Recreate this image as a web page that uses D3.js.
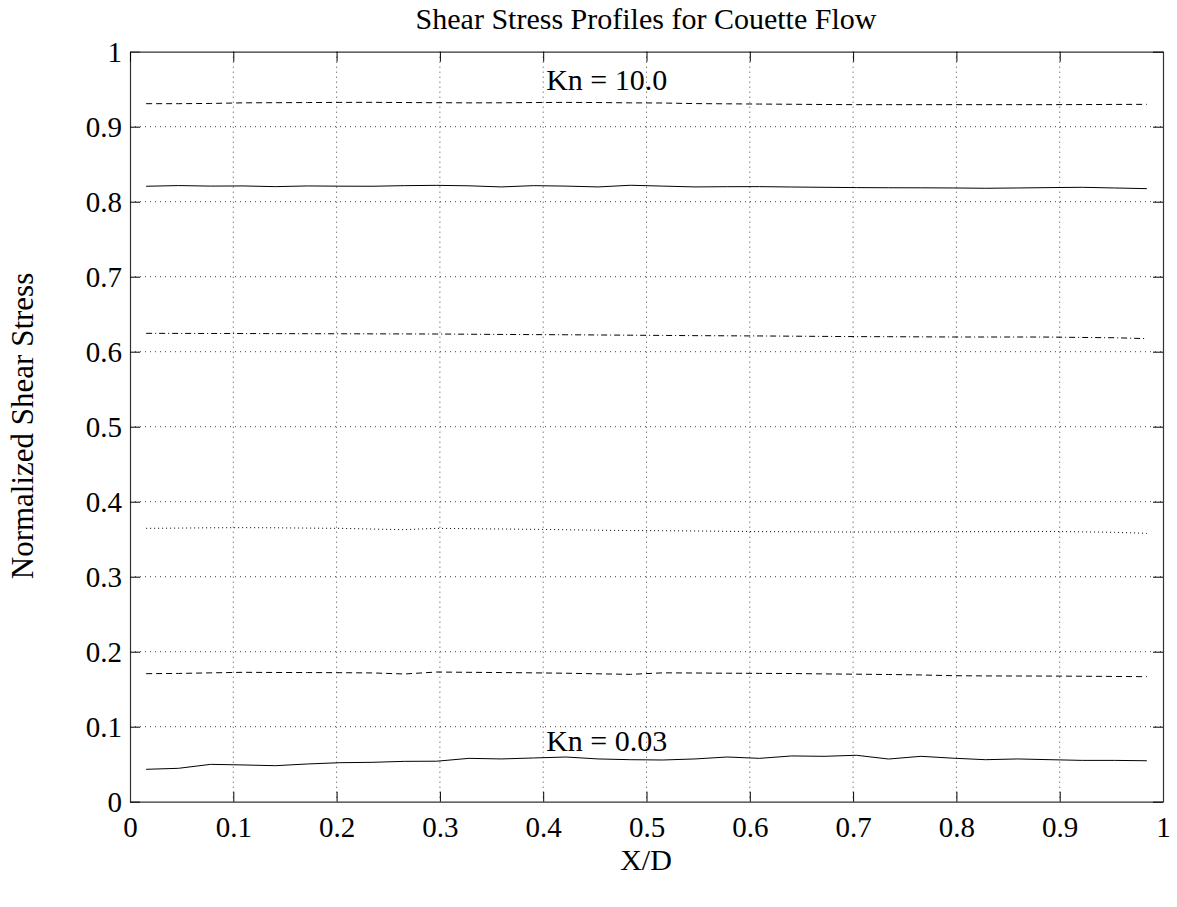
<!DOCTYPE html>
<html><head><meta charset="utf-8">
<script src="https://cdn.jsdelivr.net/npm/d3@7/dist/d3.min.js"></script>
<style>body{margin:0;background:#fff}svg{display:block}text{font-family:"Liberation Serif","DejaVu Serif",serif;fill:#000}</style>
</head><body><svg id="c" width="1177" height="907"></svg>
<script>
const xPoints = [0.015625,0.046875,0.078125,0.109375,0.140625,0.171875,0.203125,0.234375,0.265625,0.296875,0.328125,0.359375,0.390625,0.421875,0.453125,0.484375,0.515625,0.546875,0.578125,0.609375,0.640625,0.671875,0.703125,0.734375,0.765625,0.796875,0.828125,0.859375,0.890625,0.921875,0.953125,0.984375];
const kn003 = [0.0432,0.0445,0.0498,0.0490,0.0480,0.0503,0.0520,0.0525,0.0538,0.0540,0.0578,0.0570,0.0583,0.0596,0.0570,0.0560,0.0556,0.0570,0.0596,0.0578,0.0610,0.0605,0.0619,0.0569,0.0605,0.0580,0.0560,0.0570,0.0560,0.0551,0.0551,0.0546];
const series2 = [0.1707,0.1710,0.1718,0.1725,0.1723,0.1722,0.1720,0.1717,0.1703,0.1729,0.1725,0.1722,0.1718,0.1713,0.1705,0.1698,0.1718,0.1716,0.1713,0.1711,0.1709,0.1704,0.1700,0.1696,0.1690,0.1680,0.1677,0.1676,0.1675,0.1673,0.1670,0.1667];
const series3 = [0.3645,0.3648,0.3652,0.3654,0.3652,0.3648,0.3645,0.3635,0.3627,0.3645,0.3640,0.3636,0.3632,0.3626,0.3620,0.3615,0.3613,0.3610,0.3605,0.3601,0.3599,0.3597,0.3596,0.3597,0.3599,0.3600,0.3600,0.3601,0.3603,0.3598,0.3592,0.3578];
const series4 = [0.6245,0.6244,0.6243,0.6242,0.6241,0.6240,0.6239,0.6238,0.6237,0.6236,0.6233,0.6230,0.6228,0.6226,0.6223,0.6220,0.6217,0.6214,0.6212,0.6210,0.6207,0.6204,0.6201,0.6200,0.6198,0.6196,0.6196,0.6196,0.6195,0.6190,0.6186,0.6174];
const series5 = [0.8206,0.8215,0.8208,0.8210,0.8201,0.8210,0.8207,0.8206,0.8214,0.8218,0.8212,0.8197,0.8214,0.8208,0.8197,0.8219,0.8208,0.8197,0.8200,0.8201,0.8196,0.8192,0.8188,0.8186,0.8185,0.8183,0.8179,0.8183,0.8188,0.8192,0.8183,0.8174];
const kn10 = [0.9307,0.9307,0.9310,0.9318,0.9320,0.9322,0.9324,0.9325,0.9322,0.9320,0.9318,0.9319,0.9322,0.9324,0.9322,0.9318,0.9316,0.9308,0.9305,0.9302,0.9299,0.9296,0.9294,0.9294,0.9294,0.9294,0.9294,0.9294,0.9294,0.9295,0.9297,0.9298];
const xTicks = [0,0.1,0.2,0.3,0.4,0.5,0.6,0.7,0.8,0.9,1];
const yTicks = [0,0.1,0.2,0.3,0.4,0.5,0.6,0.7,0.8,0.9,1];
const xTickLabels = ["0","0.1","0.2","0.3","0.4","0.5","0.6","0.7","0.8","0.9","1"];
const yTickLabels = ["0","0.1","0.2","0.3","0.4","0.5","0.6","0.7","0.8","0.9","1"];
const labels = [{text:"Kn = 10.0", x:0.4, y:0.949},{text:"Kn = 0.03", x:0.4, y:0.068}];

const svg = d3.select("#c");
const L=130, R=1163, T=51.7, B=801.7;
const x = d3.scaleLinear().domain([0,1]).range([L,R]);
const y = d3.scaleLinear().domain([0,1]).range([B,T]);

// grid
const g = svg.append("g");
g.selectAll(".gx").data(xTicks.slice(1,-1)).enter().append("line")
 .attr("x1",d=>x(d)).attr("x2",d=>x(d)).attr("y1",T).attr("y2",B)
 .attr("stroke","#444").attr("stroke-width",1).attr("stroke-dasharray","1,4");
g.selectAll(".gy").data(yTicks.slice(1,-1)).enter().append("line")
 .attr("y1",d=>y(d)).attr("y2",d=>y(d)).attr("x1",L).attr("x2",R)
 .attr("stroke","#444").attr("stroke-width",1).attr("stroke-dasharray","1,4");

// axes
const fmtX = (d,i)=>xTickLabels[i];
const fmtY = (d,i)=>yTickLabels[i];
const axB = svg.append("g").attr("transform",`translate(0,${B})`)
 .call(d3.axisBottom(x).tickValues(xTicks).tickFormat(fmtX).tickSizeInner(-10).tickSizeOuter(0).tickPadding(15));
const axL = svg.append("g").attr("transform",`translate(${L},0)`)
 .call(d3.axisLeft(y).tickValues(yTicks).tickFormat(fmtY).tickSizeInner(-10).tickSizeOuter(0).tickPadding(8));
const axT = svg.append("g").attr("transform",`translate(0,${T})`)
 .call(d3.axisTop(x).tickValues(xTicks).tickFormat("").tickSizeInner(-10).tickSizeOuter(0));
const axR = svg.append("g").attr("transform",`translate(${R},0)`)
 .call(d3.axisRight(y).tickValues(yTicks).tickFormat("").tickSizeInner(-10).tickSizeOuter(0));
[axB,axL,axT,axR].forEach(a=>{
  a.selectAll("path").attr("stroke","#333").attr("stroke-width",1.2);
  a.selectAll("line").attr("stroke","#000").attr("stroke-width",1);
  a.selectAll("text").style("font-family","'Liberation Serif',serif").style("font-size","29px").attr("fill","#000");
});
axB.selectAll("text").attr("dy","0.71em");
axL.selectAll("text").attr("dy","0.35em");

// series
const line = d3.line().x((d,i)=>x(xPoints[i])).y(d=>y(d));
const seriesList = [
 {v:kn003, dash:null},
 {v:series2, dash:"6,4"},
 {v:series3, dash:"1,3"},
 {v:series4, dash:"6,3,1,3"},
 {v:series5, dash:null},
 {v:kn10, dash:"6,4"}
];
seriesList.forEach(s=>{
 const p = svg.append("path").datum(s.v).attr("d",line).attr("fill","none")
  .attr("stroke","#000").attr("stroke-width",1);
 if(s.dash) p.attr("stroke-dasharray",s.dash);
});

// annotations
labels.forEach(l=>{
 svg.append("text").attr("x",x(l.x)+3).attr("y",y(l.y)).text(l.text)
  .style("font-size","30px");
});

// title & labels
svg.append("text").attr("x",646).attr("y",29).attr("text-anchor","middle").style("font-size","30px")
 .text("Shear Stress Profiles for Couette Flow");
svg.append("text").attr("x",646).attr("y",870).attr("text-anchor","middle").style("font-size","30px").text("X/D");
svg.append("text").attr("transform","translate(33,426) rotate(-90)").attr("text-anchor","middle").style("font-size","31px")
 .text("Normalized Shear Stress");
</script></body></html>
